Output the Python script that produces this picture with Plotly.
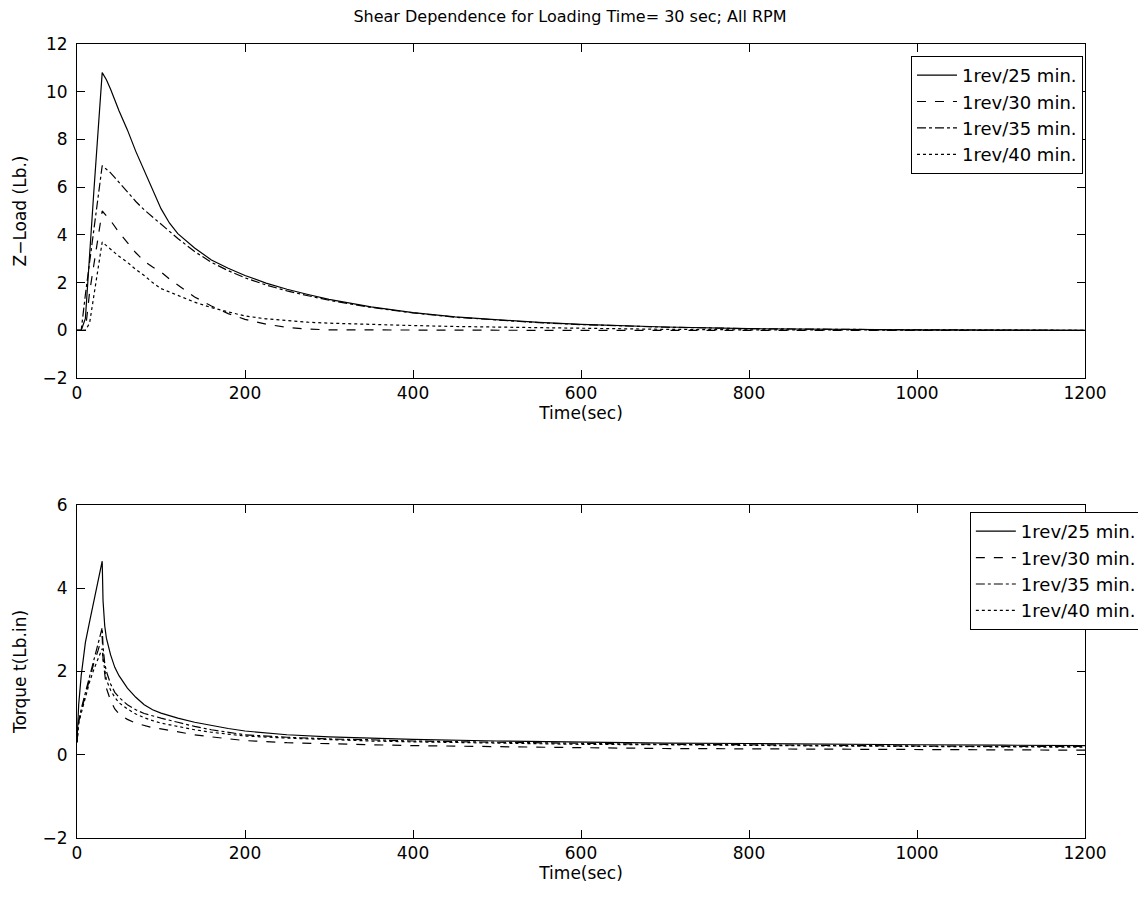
import plotly.graph_objects as go

# ---------------- data ----------------
SERIES_NAMES = ["1rev/25 min.", "1rev/30 min.", "1rev/35 min.", "1rev/40 min."]
DASHES = ["solid", "dash", "dashdot", "dot"]

TIME_Z = [0, 5, 10, 15, 20, 25, 30, 35, 40, 50, 60, 70, 80, 90, 100, 110, 120,
          140, 160, 180, 200, 225, 250, 275, 300, 350, 400, 450, 500, 550, 600,
          700, 800, 900, 1000, 1200]
Z_25 = [0, 0, 0.5, 3.3, 5.8, 8.3, 10.8, 10.5, 10.1, 9.2, 8.4, 7.5, 6.7, 5.85, 5.1, 4.5, 4.05,
        3.45, 2.95, 2.6, 2.3, 1.98, 1.72, 1.5, 1.3, 0.98, 0.74, 0.56, 0.43, 0.33, 0.25,
        0.14, 0.07, 0.04, 0.02, 0.0]
Z_30 = [0, 0, 0, 1.6, 2.8, 3.9, 5.0, 4.8, 4.6, 4.1, 3.65, 3.25, 2.9, 2.65, 2.45, 2.15, 1.9,
        1.4, 1.02, 0.7, 0.46, 0.26, 0.12, 0.05, 0.02, 0.01, 0, 0, 0, 0, 0,
        0, 0, 0, 0, 0]
Z_35 = [0, 0, 1.5, 2.9, 4.3, 5.6, 6.9, 6.75, 6.6, 6.2, 5.8, 5.4, 5.05, 4.75, 4.45, 4.15, 3.85,
        3.3, 2.85, 2.5, 2.2, 1.9, 1.65, 1.45, 1.26, 0.96, 0.73, 0.55, 0.42, 0.32, 0.24,
        0.13, 0.07, 0.04, 0.02, 0]
Z_40 = [0, 0, 0, 0.3, 1.5, 2.6, 3.7, 3.55, 3.4, 3.1, 2.85, 2.55, 2.3, 2.0, 1.75, 1.6, 1.45,
        1.18, 0.95, 0.77, 0.6, 0.48, 0.4, 0.34, 0.3, 0.24, 0.2, 0.16, 0.13, 0.1, 0.07,
        0.04, 0.02, 0.01, 0, 0]

TIME_T = [0, 2, 5, 10, 15, 20, 25, 30, 31, 33, 35, 40, 45, 50, 60, 70, 80, 90, 100,
          120, 140, 160, 180, 200, 250, 300, 350, 400, 500, 600, 700, 800, 900, 1000,
          1100, 1200]
T_25 = [0.3, 1.2, 1.9, 2.7, 3.2, 3.7, 4.15, 4.65, 3.7, 3.1, 2.8, 2.4, 2.1, 1.9, 1.6, 1.38,
        1.2, 1.08, 1.0, 0.88, 0.78, 0.7, 0.63, 0.57, 0.48, 0.43, 0.4, 0.37, 0.33, 0.3,
        0.28, 0.27, 0.25, 0.24, 0.23, 0.22]
T_30 = [0.3, 0.8, 1.05, 1.45, 1.85, 2.2, 2.5, 2.85, 2.3, 1.85, 1.6, 1.3, 1.1, 0.98, 0.85,
        0.76, 0.7, 0.65, 0.62, 0.55, 0.48, 0.43, 0.38, 0.34, 0.29, 0.26, 0.24, 0.22, 0.19,
        0.17, 0.15, 0.14, 0.13, 0.12, 0.11, 0.11]
T_35 = [0.3, 0.8, 1.1, 1.5, 1.9, 2.3, 2.65, 3.05, 2.6, 2.2, 2.0, 1.7, 1.5, 1.38, 1.2,
        1.08, 0.99, 0.93, 0.88, 0.78, 0.68, 0.6, 0.54, 0.48, 0.42, 0.38, 0.36, 0.33, 0.3,
        0.27, 0.25, 0.24, 0.22, 0.21, 0.2, 0.2]
T_40 = [0.3, 0.75, 1.0, 1.4, 1.75, 2.05, 2.3, 2.55, 2.3, 2.0, 1.8, 1.55, 1.38, 1.25, 1.1,
        0.98, 0.89, 0.82, 0.76, 0.68, 0.6, 0.54, 0.49, 0.45, 0.4, 0.36, 0.33, 0.31, 0.28,
        0.25, 0.24, 0.22, 0.21, 0.2, 0.19, 0.18]

X_TICKS = [0, 200, 400, 600, 800, 1000, 1200]
Z_TICKS = [-2, 0, 2, 4, 6, 8, 10, 12]
T_TICKS = [-2, 0, 2, 4, 6]

TITLE = "Shear Dependence for Loading Time= 30 sec; All RPM"

# ---------------- figure ----------------
FONT = "DejaVu Sans, Verdana, sans-serif"
fig = go.Figure()

for name, dash, ys in zip(SERIES_NAMES, DASHES, [Z_25, Z_30, Z_35, Z_40]):
    fig.add_trace(go.Scatter(x=TIME_Z, y=ys, mode="lines", name=name,
                             line=dict(color="black", width=1.2, dash=dash),
                             xaxis="x", yaxis="y", legend="legend"))
for name, dash, ys in zip(SERIES_NAMES, DASHES, [T_25, T_30, T_35, T_40]):
    fig.add_trace(go.Scatter(x=TIME_T, y=ys, mode="lines", name=name,
                             line=dict(color="black", width=1.2, dash=dash),
                             xaxis="x2", yaxis="y2", legend="legend2"))

axis_common = dict(showline=True, linecolor="black", linewidth=1, mirror="ticks",
                   ticks="inside", ticklen=8, tickcolor="black", showgrid=False,
                   zeroline=False, automargin=False,
                   tickfont=dict(size=17, color="black", family=FONT))

fig.update_layout(
    width=1146, height=905,
    margin=dict(l=69, r=67, t=36, b=75),
    paper_bgcolor="white", plot_bgcolor="white",
    font=dict(family=FONT, color="black", size=17),
    title=dict(text=TITLE, x=0.4904, xanchor="center", y=0.9965, yanchor="top",
               pad=dict(t=0, b=0, l=0, r=0),
               font=dict(size=16, family=FONT, color="black")),
    xaxis=dict(domain=[0, 1], anchor="y", range=[0, 1200], tickvals=X_TICKS,
               title=dict(text="Time(sec)", standoff=0, font=dict(size=17)), **axis_common),
    yaxis=dict(domain=[0.5793, 1], anchor="x", range=[-2, 12], tickvals=Z_TICKS,
               ticklabelstandoff=5,
               title=dict(text="Z\u2212Load (Lb.)", standoff=11, font=dict(size=17)), **axis_common),
    xaxis2=dict(domain=[0, 1], anchor="y2", range=[0, 1200], tickvals=X_TICKS,
                title=dict(text="Time(sec)", standoff=0, font=dict(size=17)), **axis_common),
    yaxis2=dict(domain=[0, 0.4194], anchor="x2", range=[-2, 6], tickvals=T_TICKS,
                ticklabelstandoff=5,
                title=dict(text="Torque t(Lb.in)", standoff=11, font=dict(size=17)), **axis_common),
    legend=dict(x=0.998, y=0.985, xanchor="right", yanchor="top",
                bgcolor="white", bordercolor="black", borderwidth=1,
                font=dict(size=18, family=FONT, color="black"),
                itemwidth=40, tracegroupgap=0),
    legend2=dict(x=1.0564, y=0.4106, xanchor="right", yanchor="top",
                 bgcolor="white", bordercolor="black", borderwidth=1,
                 font=dict(size=18, family=FONT, color="black"),
                 itemwidth=40, tracegroupgap=0),
    showlegend=True,
)

fig.write_html("out.html")
